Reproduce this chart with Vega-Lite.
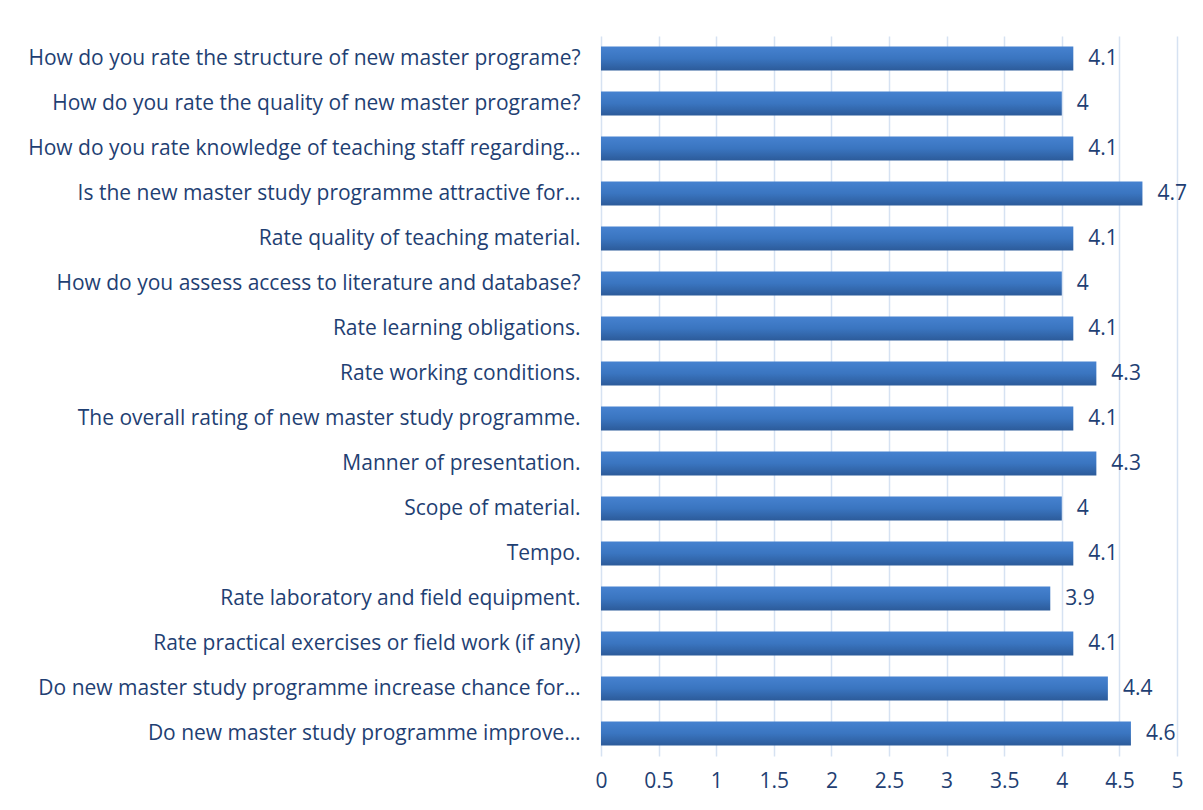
{
  "$schema": "https://vega.github.io/schema/vega-lite/v6.json",
  "width": 576,
  "height": 720,
  "autosize": {"type": "none"},
  "padding": {"left": 601, "top": 36, "right": 26, "bottom": 54},
  "background": "white",
  "config": {
    "view": {"stroke": null},
    "font": "Open Sans",
    "text": {"font": "Open Sans"}
  },
  "data": {
    "values": [
      {"q": "How do you rate the structure of new master programe?", "v": 4.1},
      {"q": "How do you rate the quality of new master programe?", "v": 4},
      {"q": "How do you rate knowledge of teaching staff regarding…", "v": 4.1},
      {"q": "Is the new master study programme attractive for…", "v": 4.7},
      {"q": "Rate quality of teaching material.", "v": 4.1},
      {"q": "How do you assess access to literature and database?", "v": 4},
      {"q": "Rate learning obligations.", "v": 4.1},
      {"q": "Rate working conditions.", "v": 4.3},
      {"q": "The overall rating of new master study programme.", "v": 4.1},
      {"q": "Manner of presentation.", "v": 4.3},
      {"q": "Scope of material.", "v": 4},
      {"q": "Tempo.", "v": 4.1},
      {"q": "Rate laboratory and field equipment.", "v": 3.9},
      {"q": "Rate practical exercises or field work (if any)", "v": 4.1},
      {"q": "Do new master study programme increase chance for…", "v": 4.4},
      {"q": "Do new master study programme improve…", "v": 4.6}
    ]
  },
  "encoding": {
    "y": {
      "field": "q",
      "type": "nominal",
      "sort": null,
      "scale": {"paddingInner": 0.47, "paddingOuter": 0.235},
      "axis": {
        "title": null,
        "ticks": false,
        "domain": false,
        "labelFontSize": 21,
        "labelColor": "#1F3F73",
        "labelFont": "Open Sans",
        "labelPadding": 21,
        "labelLimit": 700
      }
    },
    "x": {
      "field": "v",
      "type": "quantitative",
      "scale": {"domain": [0, 5], "nice": false},
      "axis": {
        "title": null,
        "values": [0, 0.5, 1, 1.5, 2, 2.5, 3, 3.5, 4, 4.5, 5],
        "format": "~g",
        "ticks": false,
        "domain": false,
        "grid": true,
        "gridColor": "#D6E2F2",
        "gridWidth": 1.5,
        "labelFontSize": 21,
        "labelColor": "#1F3F73",
        "labelFont": "Open Sans",
        "labelPadding": 14,
        "labelFlush": false
      }
    }
  },
  "layer": [
    {
      "mark": {
        "type": "bar",
        "color": {
          "gradient": "linear",
          "x1": 0, "y1": 0, "x2": 0, "y2": 1,
          "stops": [
            {"offset": 0, "color": "#4682D0"},
            {"offset": 0.5, "color": "#3A75C0"},
            {"offset": 1, "color": "#2C5B9A"}
          ]
        }
      }
    },
    {
      "mark": {"type": "text", "align": "left", "baseline": "middle", "dx": 15, "fontSize": 21, "color": "#1F3F73", "font": "Open Sans"},
      "encoding": {"text": {"field": "v", "type": "quantitative"}}
    }
  ]
}
